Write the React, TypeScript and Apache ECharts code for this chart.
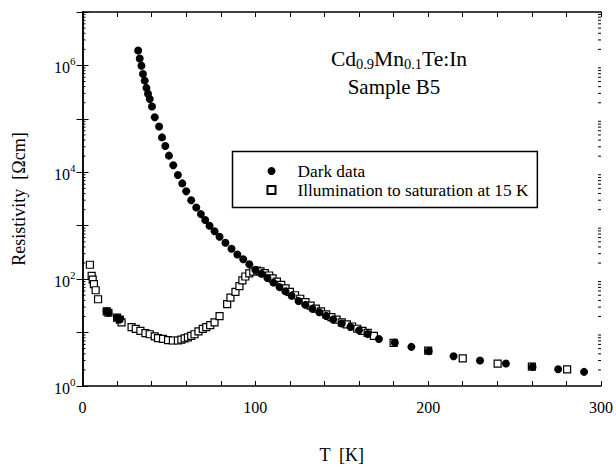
import React, { useEffect, useRef } from "react";
import * as echarts from "echarts";

const T_DARK = [14, 15, 20, 21.6, 32.2, 33.1, 34.1, 35.0, 36.0, 37.0, 37.9, 38.9, 40.2, 41.8, 44.3, 46.0, 47.9, 50.0, 52.5, 55.2, 57.7, 60.0, 62.9, 65.8, 68.5, 71.0, 73.5, 76.4, 79.3, 82.7, 86.2, 89.6, 93.0, 96.5, 100, 103.5, 107, 110.5, 114, 117.5, 121, 125, 129, 133, 137, 141, 145, 150, 155, 160, 165, 171.5, 180.7, 190.3, 200.3, 214.7, 230, 245, 260.4, 275.2, 290.2];
const R_DARK = [25, 23.5, 19, 17.5, 1.9e6, 1.35e6, 9.9e5, 6.9e5, 5.2e5, 3.8e5, 2.95e5, 2.35e5, 1.7e5, 1.07e5, 7.2e4, 4.5e4, 3.1e4, 2.05e4, 1.35e4, 8.9e3, 6.2e3, 4.4e3, 3.0e3, 2.2e3, 1.65e3, 1.28e3, 1.0e3, 790, 620, 480, 370, 290, 235, 190, 150, 126, 105, 86, 71, 59, 49, 39, 33, 28, 24, 20.5, 17.5, 14.8, 12.8, 11, 9.4, 7.6, 6.5, 5.4, 4.5, 3.6, 3.0, 2.63, 2.28, 2.06, 1.84];

const T_ILL = [4.3, 5.3, 5.9, 6.6, 7.6, 9.0, 14, 15, 20, 21.6, 22.6, 28.4, 30.8, 33.5, 36.4, 38.9, 41.8, 43.7, 46.6, 49.5, 52.3, 55.2, 57.2, 59.1, 61, 62.9, 64.8, 67.1, 69.6, 71.6, 73.9, 76.4, 79.3, 83.7, 85.6, 88.5, 90.8, 92.5, 94.2, 96.5, 98.8, 101, 103, 105.5, 108, 110, 112.5, 115, 117.5, 120, 123, 126, 129, 132, 135, 138, 141, 144, 147, 150, 153, 156, 159, 162, 165, 168.6, 180, 200, 220, 240.2, 260, 280.4];
const R_ILL = [186, 115, 98, 81, 62, 42, 25, 23.5, 19, 17.5, 15.5, 12.6, 11.7, 10.8, 9.8, 9.3, 8.5, 7.9, 7.6, 7.2, 7.1, 7.1, 7.4, 7.8, 8.1, 8.7, 9.3, 10.5, 11.7, 12.6, 13.8, 15.5, 20.4, 34, 45, 58, 74, 95, 112, 128, 138, 145, 140, 130, 117, 103, 90, 78, 67, 58, 50, 43, 37, 32, 28, 25, 22, 19.5, 17.5, 15.5, 14.2, 13, 11.8, 10.8, 9.9, 8.7, 6.4, 4.6, 3.3, 2.63, 2.3, 2.04];

const DECADES = [1, 10, 100, 1e3, 1e4, 1e5, 1e6];
const MINOR_MULT = [2, 3, 4, 5, 6, 7, 8, 9];
const X_MIN = 0;
const X_MAX = 300;
const Y_MIN = 1;
const Y_MAX = 1e7;

const SERIES_DARK = "Dark data";
const SERIES_ILL = "Illumination to saturation at 15 K";

const FONT = "Liberation Serif";

export default function App() {
  const ref = useRef<HTMLDivElement>(null);
  useEffect(() => {
    if (!ref.current) return;
    const chart = echarts.init(ref.current, undefined, { renderer: "svg" });

    const minorData: number[][] = [];
    DECADES.forEach((d) => {
      MINOR_MULT.forEach((m) => {
        minorData.push([X_MIN, m * d, 1]);
        minorData.push([X_MAX, m * d, -1]);
      });
    });

    const axisLine = { show: true, lineStyle: { color: "#000", width: 1.5 } };
    const yLabelFmt = (v: number) => {
      const e = Math.round(Math.log10(v));
      return e % 2 === 0 && e < 7 ? `{b|10}{s|${e}}` : "";
    };
    const legendText = { fontFamily: FONT, fontSize: 17.3, color: "#000", lineHeight: 19 };

    chart.setOption({
      animation: false,
      backgroundColor: "#fff",
      textStyle: { fontFamily: FONT, color: "#000" },
      grid: { left: 82.5, right: 13, top: 12, bottom: 78, containLabel: false },
      xAxis: [
        {
          type: "value",
          min: X_MIN,
          max: X_MAX,
          interval: 20,
          name: "T  [K]",
          nameLocation: "middle",
          nameGap: 60,
          nameTextStyle: { fontFamily: FONT, fontSize: 18, color: "#000" },
          axisLine,
          axisTick: { show: true, inside: true, length: 5, lineStyle: { color: "#000", width: 1 } },
          axisLabel: {
            fontFamily: FONT,
            fontSize: 16,
            color: "#000",
            margin: 13,
            formatter: (v: number) => (v % 100 === 0 ? String(v) : ""),
          },
          splitLine: { show: false },
        },
        {
          type: "value",
          position: "top",
          min: X_MIN,
          max: X_MAX,
          interval: 20,
          axisLine,
          axisTick: { show: true, inside: true, length: 5, lineStyle: { color: "#000", width: 1 } },
          axisLabel: { show: false },
          splitLine: { show: false },
        },
      ],
      yAxis: [
        {
          type: "log",
          logBase: 10,
          min: Y_MIN,
          max: Y_MAX,
          interval: 1,
          name: "Resistivity  [\u03A9cm]",
          nameLocation: "middle",
          nameGap: 55,
          nameTextStyle: { fontFamily: FONT, fontSize: 18, color: "#000" },
          axisLine,
          axisTick: { show: true, inside: true, length: 6, lineStyle: { color: "#000", width: 1 } },
          axisLabel: {
            fontFamily: FONT,
            color: "#000",
            margin: 7,
            formatter: yLabelFmt,
            rich: {
              b: { fontFamily: FONT, fontSize: 16, color: "#000", verticalAlign: "bottom", lineHeight: 20 },
              s: { fontFamily: FONT, fontSize: 11, color: "#000", verticalAlign: "top", lineHeight: 12 },
            },
          },
          splitLine: { show: false },
        },
        {
          type: "log",
          logBase: 10,
          position: "right",
          min: Y_MIN,
          max: Y_MAX,
          interval: 1,
          axisLine,
          axisTick: { show: true, inside: true, length: 6, lineStyle: { color: "#000", width: 1 } },
          axisLabel: { show: false },
          splitLine: { show: false },
        },
      ],
      legend: {
        data: [
          { name: SERIES_DARK, icon: "circle", textStyle: legendText },
          { name: SERIES_ILL, icon: "path://M0,0L10,0L10,10L0,10Z", textStyle: legendText },
        ],
        orient: "vertical",
        left: 232.5,
        top: 151.5,
        padding: [10, 9, 8, 34],
        itemGap: 0,
        itemWidth: 42,
        itemHeight: 8,
        symbolKeepAspect: true,
        borderColor: "#000",
        borderWidth: 1.5,
        borderRadius: 0,
        backgroundColor: "#fff",
        textStyle: legendText,
      },
      graphic: [
        {
          type: "text",
          x: 399,
          y: 48,
          style: {
            text: "{m|Cd}{s|0.9}{m|Mn}{s|0.1}{m|Te:In}",
            align: "center",
            verticalAlign: "top",
            rich: {
              m: { fontFamily: FONT, fontSize: 21.5, fill: "#000", lineHeight: 21, verticalAlign: "top" },
              s: { fontFamily: FONT, fontSize: 14.5, fill: "#000", lineHeight: 14, verticalAlign: "top", padding: [8, 0, 0, 0] },
            },
          },
        },
        {
          type: "text",
          x: 394,
          y: 76,
          style: {
            text: "Sample B5",
            fontFamily: FONT,
            fontSize: 21,
            fill: "#000",
            align: "center",
            verticalAlign: "top",
          },
        },
      ],
      series: [
        {
          name: SERIES_ILL,
          type: "scatter",
          data: T_ILL.map((t, i) => [t, R_ILL[i]]),
          symbol: "rect",
          symbolSize: 7,
          itemStyle: { color: "#fff", borderColor: "#000", borderWidth: 1.2, opacity: 1 },
          z: 2,
        },
        {
          name: SERIES_DARK,
          type: "scatter",
          data: T_DARK.map((t, i) => [t, R_DARK[i]]),
          symbol: "circle",
          symbolSize: 8,
          itemStyle: { color: "#000", opacity: 1 },
          z: 3,
        },
        {
          name: "minorTicks",
          type: "custom",
          silent: true,
          clip: false,
          data: minorData,
          renderItem: (params: any, api: any) => {
            const p = api.coord([api.value(0), api.value(1)]);
            const dir = api.value(2);
            return {
              type: "line",
              shape: { x1: p[0], y1: p[1], x2: p[0] + dir * 3, y2: p[1] },
              style: { stroke: "#000", lineWidth: 1 },
            };
          },
          z: 4,
        },
      ],
    });
    return () => chart.dispose();
  }, []);
  return <div ref={ref} style={{ position: "fixed", left: 0, top: 0, width: 616, height: 469 }} />;
}
